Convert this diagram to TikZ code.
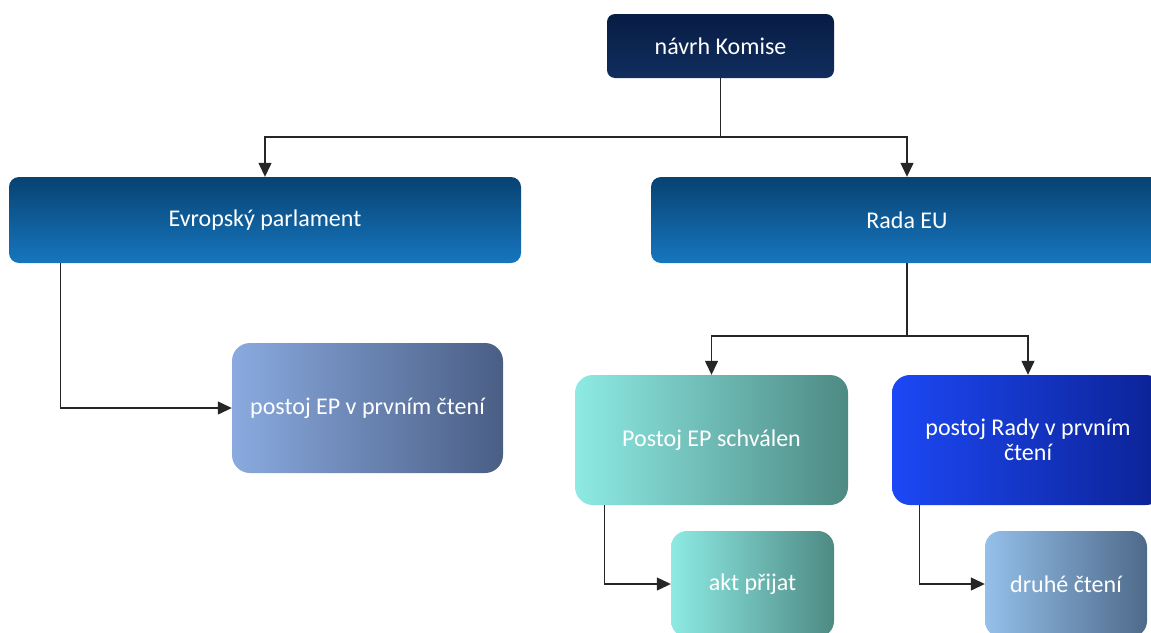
\documentclass[tikz,border=0pt]{standalone}
\usepackage{fontspec}
\setmainfont{Carlito}
\usetikzlibrary{arrows.meta}
\tikzset{
  box/.style={inner sep=0pt, text=white, align=center, font=\fontsize{24}{25}\selectfont},
  conn/.style={line width=1.3pt, draw=black!85, -{Triangle[length=14pt,width=13pt]}},
}
\begin{document}
\begin{tikzpicture}[x=1pt,y=-1pt]
\useasboundingbox (0,0) rectangle (1151,632);
% boxes
\node[box, rounded corners=8pt, minimum width=227pt, minimum height=64pt, top color={rgb,255:red,8;green,28;blue,68}, bottom color={rgb,255:red,16;green,46;blue,94}] (kom) at (720.5,46) {návrh Komise};
\node[box, rounded corners=10pt, minimum width=512pt, minimum height=86pt, top color={rgb,255:red,8;green,66;blue,114}, bottom color={rgb,255:red,22;green,118;blue,190}] (ep) at (265,220) {Evropský parlament};
\node[box, rounded corners=10pt, minimum width=512pt, minimum height=86pt, top color={rgb,255:red,8;green,66;blue,114}, bottom color={rgb,255:red,22;green,118;blue,190}] (rada) at (907,220) {Rada EU};
\node[box, rounded corners=18pt, minimum width=271pt, minimum height=130pt, left color={rgb,255:red,138;green,170;blue,223}, right color={rgb,255:red,74;green,94;blue,133}] (pep) at (367.5,408) {postoj EP v prvním čtení};
\node[box, rounded corners=18pt, minimum width=273pt, minimum height=130pt, left color={rgb,255:red,142;green,234;blue,228}, right color={rgb,255:red,78;green,138;blue,132}] (pes) at (711.5,440) {Postoj EP schválen};
\node[box, rounded corners=18pt, minimum width=272pt, minimum height=130pt, left color={rgb,255:red,28;green,72;blue,245}, right color={rgb,255:red,12;green,34;blue,148}] (rady) at (1028,440) {postoj Rady v prvním\\čtení};
\node[box, rounded corners=16pt, minimum width=163pt, minimum height=106pt, left color={rgb,255:red,142;green,234;blue,228}, right color={rgb,255:red,78;green,138;blue,132}] (akt) at (752.5,584) {akt přijat};
\node[box, rounded corners=16pt, minimum width=162pt, minimum height=106pt, left color={rgb,255:red,148;green,192;blue,234}, right color={rgb,255:red,78;green,106;blue,138}] (dru) at (1066,584) {druhé čtení};
% connectors
\coordinate (j1) at (720.5,137);
\coordinate (j2) at (907,336);
\draw[line width=1.3pt, draw=black!85] (kom.south) -- (j1);
\draw[conn] (j1) -| (ep.north);
\draw[conn] (j1) -| (rada.north);
\draw[line width=1.3pt, draw=black!85] (rada.south) -- (j2);
\draw[conn] (j2) -| (pes.north);
\draw[conn] (j2) -| (rady.north);
\draw[conn] ([xshift=52pt]ep.south west) |- (pep.west);
\draw[conn] ([xshift=30pt]pes.south west) |- (akt.west);
\draw[conn] ([xshift=28pt]rady.south west) |- (dru.west);
\end{tikzpicture}
\end{document}
